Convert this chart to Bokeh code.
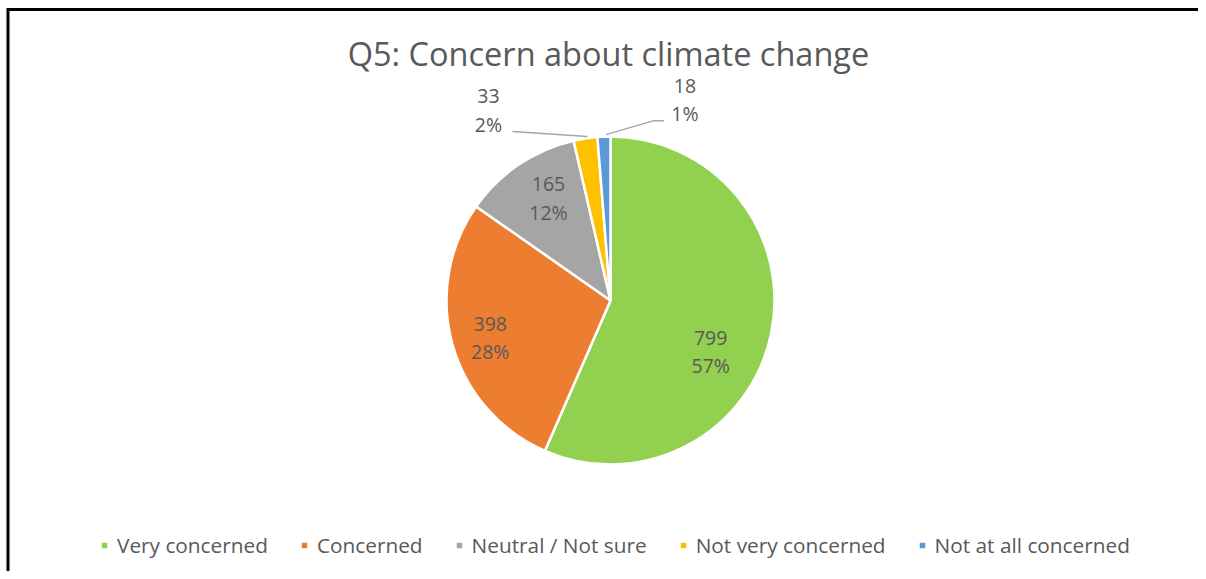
import math
from bokeh.plotting import figure
from bokeh.models import Range1d, Legend, LegendItem, ColumnDataSource
from bokeh.core.properties import value
from bokeh.embed import file_html
from bokeh.resources import INLINE

# ---------------- data ----------------
title_text = "Q5: Concern about climate change"
categories = ["Very concerned", "Concerned", "Neutral / Not sure",
              "Not very concerned", "Not at all concerned"]
counts = [799, 398, 165, 33, 18]
colors = ["#92D050", "#ED7D31", "#A5A5A5", "#FFC000", "#5B9BD5"]

# ---------------- layout / style ----------------
W, H = 1198, 571
FONT = value("Open Sans")
TXT = "#595959"
cx, cy, R = 610, H - 300, 164
label_r = 0.73 * R
# label nudges in screen px (dx right, dy down); outside labels are relative to slice edge
inside_nudge = {0: (-17, 27), 1: (-5, 5), 2: (5, -3)}
outside_off = {3: (-97, -28), 4: (81, -37)}

p = figure(width=W, height=H, x_range=Range1d(0, W), y_range=Range1d(0, H),
           output_backend="svg", toolbar_location=None, min_border=0,
           x_axis_type=None, y_axis_type=None)
p.grid.visible = False
p.outline_line_color = None
p.background_fill_color = "white"
p.border_fill_color = "white"

total = sum(counts)
starts, ends, mids = [], [], []
cum = 0
for c in counts:
    a0 = math.pi / 2 - 2 * math.pi * cum / total
    cum += c
    a1 = math.pi / 2 - 2 * math.pi * cum / total
    starts.append(a0)
    ends.append(a1)
    mids.append((a0 + a1) / 2)

src = ColumnDataSource(dict(cat=categories, cnt=counts, color=colors,
                            start=starts, end=ends))
wr = p.wedge(x=cx, y=cy, radius=R, start_angle="start", end_angle="end",
             direction="clock", fill_color="color", line_color="white",
             line_width=2.5, source=src)

# labels
vx, vy, vt, px_, py_, pt = [], [], [], [], [], []
for i, c in enumerate(counts):
    pct = f"{round(100 * c / total)}%"
    if i in inside_nudge:
        dx, dy = inside_nudge[i]
        lx = cx + label_r * math.cos(mids[i]) + dx
        ly = cy + label_r * math.sin(mids[i]) - dy
    else:
        ex = cx + R * math.cos(mids[i])
        ey = cy + R * math.sin(mids[i])
        dx, dy = outside_off[i]
        lx, ly = ex + dx, ey - dy
        if i == 3:
            p.line([ex + 2, lx + 24], [ey + 2, ly - 21], line_color="#A6A6A6", line_width=1.5)
        else:
            p.line([ex + 2, lx - 31, lx - 21], [ey + 2, ly - 21, ly - 21],
                   line_color="#A6A6A6", line_width=1.5)
    vx.append(lx); vy.append(ly + 14); vt.append(str(c))
    px_.append(lx); py_.append(ly - 14); pt.append(pct)

p.text(x=vx, y=vy, text=vt, text_font=FONT, text_font_size="19.5px",
       text_color=TXT, text_align="center", text_baseline="middle")
p.text(x=px_, y=py_, text=pt, text_font=FONT, text_font_size="19.5px",
       text_color=TXT, text_align="center", text_baseline="middle")

# title
p.text(x=[608], y=[H - 53], text=[title_text], text_font=FONT,
       text_font_size="32.5px", text_color=TXT, text_align="center",
       text_baseline="middle")

# chart border (only left and top edges visible in reference)
p.line([7.5, 7.5, W], [0, H - 9, H - 9], line_color="black", line_width=3,
       line_join="miter")

# legend
items = [LegendItem(label=categories[i], renderers=[wr], index=i) for i in range(len(categories))]
leg = Legend(items=items, orientation="horizontal", location=(99, 12),
             glyph_width=10, glyph_height=10, label_standoff=8, spacing=31,
             label_text_font="Open Sans", label_text_font_size="20.8px",
             label_text_color=TXT, border_line_color=None,
             background_fill_alpha=0, padding=0, margin=0)
p.add_layout(leg)

open("out.html", "w").write(file_html(p, INLINE))
